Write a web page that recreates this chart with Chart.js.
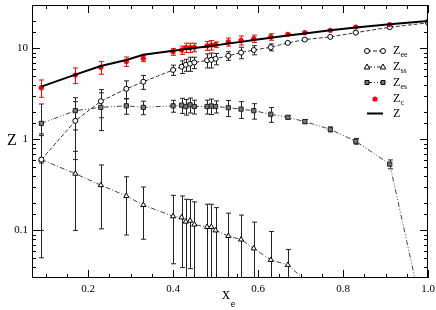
<!DOCTYPE html>
<html>
<head>
<meta charset="utf-8">
<script src="https://cdn.jsdelivr.net/npm/chart.js@4/dist/chart.umd.min.js"></script>
<style>
html, body { margin: 0; padding: 0; background: #fff; }
</style>
</head>
<body>
<canvas id="myChart" width="436" height="310"></canvas>
<script>
// x_e values shared by every series
var xe = [0.09, 0.17, 0.23, 0.29, 0.33, 0.40, 0.42, 0.43, 0.44, 0.45, 0.48, 0.49, 0.50,
          0.53, 0.56, 0.59, 0.63, 0.67, 0.71, 0.77, 0.83, 0.91, 1.0];

// Z (solid line)
var zTotal = [3.8, 5.15, 6.4, 7.45, 8.5, 9.45, 9.7, 9.85, 10.0, 10.1, 10.5, 10.65, 10.8,
              11.3, 11.8, 12.4, 13.1, 13.9, 14.6, 15.8, 17.0, 18.4, 20.0];

// Z_c (red dots) and errors
var zc    = [3.7, 5.1, 6.2, 7.2, 7.8, 9.2, 9.6, 10.2, 10.2, 10.3, 10.7, 10.9, 11.0,
             11.8, 12.3, 12.8, 13.4, 14.3, 14.9, 15.8, 17.2, 18.3, 20.0];
var zcErr = [0.8, 1.0, 1.0, 0.85, 0.6, 0.8, 1.0, 1.2, 1.2, 1.1, 1.2, 1.3, 0.8,
             1.2, 1.4, 1.2, 1.1, 0.2, 0.2, 0.2, 0.2, 0.2, 0.2];

// Z_ee (open circles)
var zee    = [0.6, 1.6, 2.63, 3.6, 4.3, 5.8, 6.3, 6.6, 6.8, 7.0, 7.4, 7.5, 7.7,
              8.3, 9.0, 9.6, 10.3, 11.5, 12.5, 13.4, 14.9, 17.1, 19.1];
var zeeErr = [0.5, 1.0, 0.9, 0.8, 0.75, 0.75, 1.0, 1.0, 1.2, 1.0, 1.3, 1.4, 1.1,
              0.9, 1.3, 1.1, 0.9, 0.1, 0.1, 0.1, 0.1, 0.1, 0.1];

// Z_ss (open triangles), ends at x_e = 0.71
var zss    = [0.6, 0.42, 0.314, 0.239, 0.19, 0.143, 0.139, 0.125, 0.128, 0.116, 0.109, 0.109, 0.1,
              0.0867, 0.0794, 0.0634, 0.0474, 0.0418, 0.0285];
var zssErr = [0.55, 0.32, 0.21, 0.15, 0.11, 0.1, 0.1, 0.095, 0.09, 0.09, 0.085, 0.085, 0.078,
              0.068, 0.068, 0.06, 0.05, 0.02, 0];

// Z_es (squares)
var zes    = [1.5, 2.07, 2.25, 2.34, 2.25, 2.34, 2.38, 2.3, 2.4, 2.3, 2.3, 2.33, 2.3,
              2.23, 2.15, 2.07, 1.89, 1.75, 1.57, 1.29, 0.955, 0.535, 0.0066];
var zesErr = [0.95, 0.8, 1.0, 0.45, 0.38, 0.35, 0.45, 0.45, 0.45, 0.4, 0.4, 0.45, 0.35,
              0.45, 0.45, 0.4, 0.35, 0.08, 0.08, 0.08, 0.07, 0.06, 0];

var serif = "'Liberation Serif', 'Times New Roman', serif";

function pts(vals) {
    return vals.map(function (v, i) { return { x: xe[i], y: v }; });
}

// error bars, drawn through the scales
function drawErrors(chart) {
    var ctx = chart.ctx, a = chart.chartArea;
    var x = chart.scales.x, y = chart.scales.y;
    ctx.save();
    ctx.beginPath();
    ctx.rect(a.left, a.top, a.right - a.left, a.bottom - a.top);
    ctx.clip();
    chart.data.datasets.forEach(function (ds) {
        if (!ds.errors) return;
        ctx.strokeStyle = ds.errorColor;
        ctx.lineWidth = 1;
        ctx.beginPath();
        ds.data.forEach(function (p, i) {
            var e = ds.errors[i];
            if (!e) return;
            var px = Math.round(x.getPixelForValue(p.x)) + 0.5;
            var hi = y.getPixelForValue(p.y + e);
            var lo = p.y - e > 0 ? y.getPixelForValue(p.y - e) : a.bottom + 10;
            ctx.moveTo(px, hi); ctx.lineTo(px, lo);
            ctx.moveTo(px - 2.5, hi); ctx.lineTo(px + 2.5, hi);
            ctx.moveTo(px - 2.5, lo); ctx.lineTo(px + 2.5, lo);
        });
        ctx.stroke();
    });
    ctx.restore();
}

function drawFrame(chart) {
    var ctx = chart.ctx, a = chart.chartArea;
    var x = chart.scales.x, y = chart.scales.y;
    ctx.save();
    ctx.strokeStyle = '#000';
    ctx.lineWidth = 1;
    ctx.strokeRect(a.left + 0.5, a.top + 0.5, a.right - a.left - 1, a.bottom - a.top - 1);

    ctx.beginPath();
    // x ticks, major every 0.2, minor every 0.05
    for (var k = 1; k * 0.05 <= x.max + 1e-9; k++) {
        var v = k * 0.05;
        if (v < x.min) continue;
        var len = (k % 4 === 0) ? 8 : 4;
        var px = Math.round(x.getPixelForValue(v)) + 0.5;
        ctx.moveTo(px, a.bottom); ctx.lineTo(px, a.bottom - len);
        ctx.moveTo(px, a.top); ctx.lineTo(px, a.top + len);
    }
    // y ticks
    y.ticks.forEach(function (t) {
        var l = Math.log10(t.value);
        var major = Math.abs(l - Math.round(l)) < 1e-6;
        var len = major ? 8 : 4;
        var py = Math.round(y.getPixelForValue(t.value)) + 0.5;
        if (py <= a.top + 1 || py >= a.bottom - 1) return;
        ctx.moveTo(a.left, py); ctx.lineTo(a.left + len, py);
        ctx.moveTo(a.right, py); ctx.lineTo(a.right - len, py);
    });
    ctx.stroke();

    // axis titles
    ctx.fillStyle = '#000';
    ctx.textBaseline = 'middle';
    ctx.textAlign = 'center';
    ctx.font = '16px ' + serif;
    ctx.fillText('Z', 12, 141);
    ctx.font = '16px ' + serif;
    ctx.fillText('x', 226, 295);
    ctx.font = '10px ' + serif;
    ctx.fillText('e', 233, 304);
    ctx.restore();
}

function marker(ctx, style, x, y) {
    ctx.beginPath();
    if (style === 'circle') {
        ctx.arc(x, y, 2.5, 0, Math.PI * 2);
        ctx.fillStyle = '#fff';
    } else if (style === 'triangle') {
        ctx.moveTo(x, y - 3); ctx.lineTo(x + 2.8, y + 2); ctx.lineTo(x - 2.8, y + 2); ctx.closePath();
        ctx.fillStyle = '#fff';
    } else {
        ctx.rect(x - 2, y - 2, 4, 4);
        ctx.fillStyle = '#777';
    }
    ctx.fill();
    ctx.stroke();
}

function drawLegend(chart) {
    var ctx = chart.ctx;
    var rows = [
        { y: 51, sub: 'ee', style: 'circle', dash: [4, 2] },
        { y: 67, sub: 'ss', style: 'triangle', dash: [5, 2, 1, 2] },
        { y: 82.5, sub: 'es', style: 'rect', dash: [5, 2, 1, 2, 1, 2] },
        { y: 99, sub: 'c', style: 'dot' },
        { y: 113.5, sub: '', style: 'line' }
    ];
    ctx.save();
    rows.forEach(function (r) {
        ctx.strokeStyle = '#222';
        ctx.lineWidth = 1;
        if (r.style === 'dot') {
            ctx.beginPath();
            ctx.arc(375, r.y, 2.6, 0, Math.PI * 2);
            ctx.fillStyle = '#f00';
            ctx.fill();
        } else if (r.style === 'line') {
            ctx.strokeStyle = '#000';
            ctx.lineWidth = 2;
            ctx.beginPath(); ctx.moveTo(367, r.y); ctx.lineTo(383, r.y); ctx.stroke();
        } else {
            ctx.setLineDash(r.dash);
            ctx.beginPath(); ctx.moveTo(367, r.y); ctx.lineTo(383, r.y); ctx.stroke();
            ctx.setLineDash([]);
            ctx.strokeStyle = '#000';
            marker(ctx, r.style, 367, r.y);
            marker(ctx, r.style, 383, r.y);
        }
        ctx.fillStyle = '#000';
        ctx.textBaseline = 'middle';
        ctx.textAlign = 'left';
        ctx.font = '12px ' + serif;
        ctx.fillText('Z', 393, r.y);
        if (r.sub) {
            ctx.font = '8px ' + serif;
            ctx.fillText(r.sub, 400.5, r.y + 4);
        }
    });
    ctx.restore();
}

var decor = {
    id: 'decor',
    beforeDatasetsDraw: function (chart) { drawErrors(chart); },
    afterDraw: function (chart) { drawFrame(chart); drawLegend(chart); }
};

var ctx = document.getElementById('myChart').getContext('2d');

new Chart(ctx, {
    type: 'line',
    data: {
        datasets: [
            {
                label: 'Z', data: pts(zTotal),
                borderColor: '#000', borderWidth: 2, pointRadius: 0, fill: false
            },
            {
                label: 'Z_c', data: pts(zc), errors: zcErr, errorColor: '#f00',
                showLine: false, pointRadius: 2.6, pointBackgroundColor: '#f00', pointBorderWidth: 0
            },
            {
                label: 'Z_ee', data: pts(zee), errors: zeeErr, errorColor: '#222',
                borderColor: '#333', borderWidth: 1, borderDash: [4, 2],
                pointStyle: 'circle', pointRadius: 2.5,
                pointBackgroundColor: '#fff', pointBorderColor: '#000', pointBorderWidth: 1
            },
            {
                label: 'Z_ss', data: pts(zss), errors: zssErr, errorColor: '#222',
                borderColor: '#444', borderWidth: 1, borderDash: [5, 2, 1, 2],
                pointStyle: 'triangle', pointRadius: 3,
                pointBackgroundColor: '#fff', pointBorderColor: '#000', pointBorderWidth: 1
            },
            {
                label: 'Z_es', data: pts(zes), errors: zesErr, errorColor: '#222',
                borderColor: '#444', borderWidth: 1, borderDash: [5, 2, 1, 2, 1, 2],
                pointStyle: 'rect', pointRadius: 3,
                pointBackgroundColor: '#777', pointBorderColor: '#222', pointBorderWidth: 1
            }
        ]
    },
    options: {
        responsive: false,
        animation: false,
        layout: { padding: { top: 2, right: 8, left: 0, bottom: 0 } },
        plugins: { legend: { display: false }, tooltip: { enabled: false } },
        scales: {
            x: {
                type: 'linear', min: 0.068, max: 1.0,
                grid: { display: false, drawTicks: false },
                border: { display: false },
                ticks: {
                    stepSize: 0.2, includeBounds: false, padding: 5, maxRotation: 0,
                    color: '#000', font: { family: serif, size: 11 },
                    callback: function (v) { return v.toFixed(1); }
                },
                afterFit: function (s) {
                    s.height = 32;
                    s.paddingLeft = 0; s.paddingRight = 0;
                }
            },
            y: {
                type: 'logarithmic', min: 0.03, max: 30,
                grid: { display: false, drawTicks: false },
                border: { display: false },
                ticks: {
                    padding: 4, autoSkip: false,
                    color: '#000', font: { family: serif, size: 11 },
                    callback: function (v) {
                        var l = Math.log10(v);
                        return Math.abs(l - Math.round(l)) < 1e-6 ? String(v) : '';
                    }
                },
                afterFit: function (s) {
                    s.width = 32;
                    s.paddingTop = 0; s.paddingBottom = 0;
                }
            }
        }
    },
    plugins: [decor]
});
</script>
</body>
</html>
